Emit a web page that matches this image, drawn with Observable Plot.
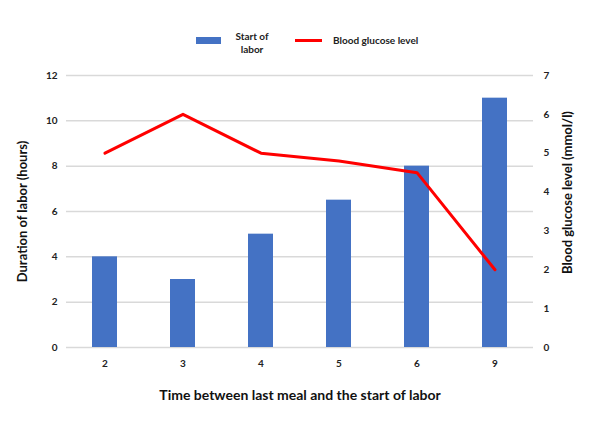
<!DOCTYPE html>
<html>
<head>
<meta charset="utf-8">
<script src="https://cdn.jsdelivr.net/npm/d3@7"></script>
<script src="https://cdn.jsdelivr.net/npm/@observablehq/plot@0.6"></script>
<style>
  html, body { margin: 0; padding: 0; background: #fff; }
  body { width: 600px; height: 423px; position: relative; overflow: hidden; font-family: Lato, "Open Sans", sans-serif; }
  #legend { position: relative; height: 60px; font-weight: bold; font-size: 10px; color: #222; }
  #legend .sw { position: absolute; }
  #legend .tx { position: absolute; line-height: 13px; }
</style>
</head>
<body>
<div id="legend">
  <div class="sw" style="left:196px; top:37px; width:25px; height:7px; background:#4472c4;"></div>
  <div class="tx" style="left:232px; top:30px; width:40px; text-align:center;">Start of<br>labor</div>
  <div class="sw" style="left:295px; top:39px; width:27px; height:3px; background:#ff0000;"></div>
  <div class="tx" style="left:333px; top:34px;">Blood glucose level</div>
</div>
<div id="chart"></div>
<script>
const times = ["2", "3", "4", "5", "6", "9"];
const labor = [4, 3, 5, 6.5, 8, 11];
const glucose = [5, 6, 5, 4.8, 4.5, 2];
const leftTicks = [0, 2, 4, 6, 8, 10, 12];
const rightTicks = [0, 1, 2, 3, 4, 5, 6, 7];
const leftMax = 12, rightMax = 7;
const k = leftMax / rightMax;

const rows = times.map((t, i) => ({t, labor: labor[i], glucose: glucose[i]}));

const chart = Plot.plot({
  width: 600,
  height: 363,
  marginTop: 15,
  marginBottom: 76,
  marginLeft: 66,
  marginRight: 67,
  style: {fontFamily: "Lato, 'Open Sans', sans-serif", fontWeight: "bold", fontSize: "10px", color: "#222", background: "#fff"},
  x: {type: "band", domain: times, paddingInner: 0.68, paddingOuter: 0.32},
  y: {domain: [0, leftMax]},
  marks: [
    Plot.gridY(leftTicks, {stroke: "#d9d9d9", strokeOpacity: 1, strokeWidth: 1.5}),
    Plot.barY(rows, {x: "t", y: "labor", fill: "#4472c4"}),
    Plot.line(rows, {x: "t", y: d => d.glucose * k, stroke: "#ff0000", strokeWidth: 3}),
    Plot.axisY(leftTicks, {anchor: "left", tickSize: 0, tickPadding: 9, label: null}),
    Plot.axisY(rightTicks.map(v => v * k), {anchor: "right", tickSize: 0, tickPadding: 10, tickFormat: v => String(Math.round(v / k)), label: null}),
    Plot.axisX({tickSize: 0, tickPadding: 12, label: null}),
    Plot.text(["Duration of labor (hours)"], {frameAnchor: "left", textAnchor: "middle", rotate: -90, dx: -44, fontSize: 13, fill: "#111"}),
    Plot.text(["Blood glucose level (mmol/l)"], {frameAnchor: "right", textAnchor: "middle", rotate: -90, dx: 34, dy: -19, fontSize: 13, fill: "#111"}),
    Plot.text(["Time between last meal and the start of labor"], {frameAnchor: "bottom", dy: 52, fontSize: 14, fill: "#111"})
  ]
});
document.getElementById("chart").appendChild(chart);
</script>
</body>
</html>
